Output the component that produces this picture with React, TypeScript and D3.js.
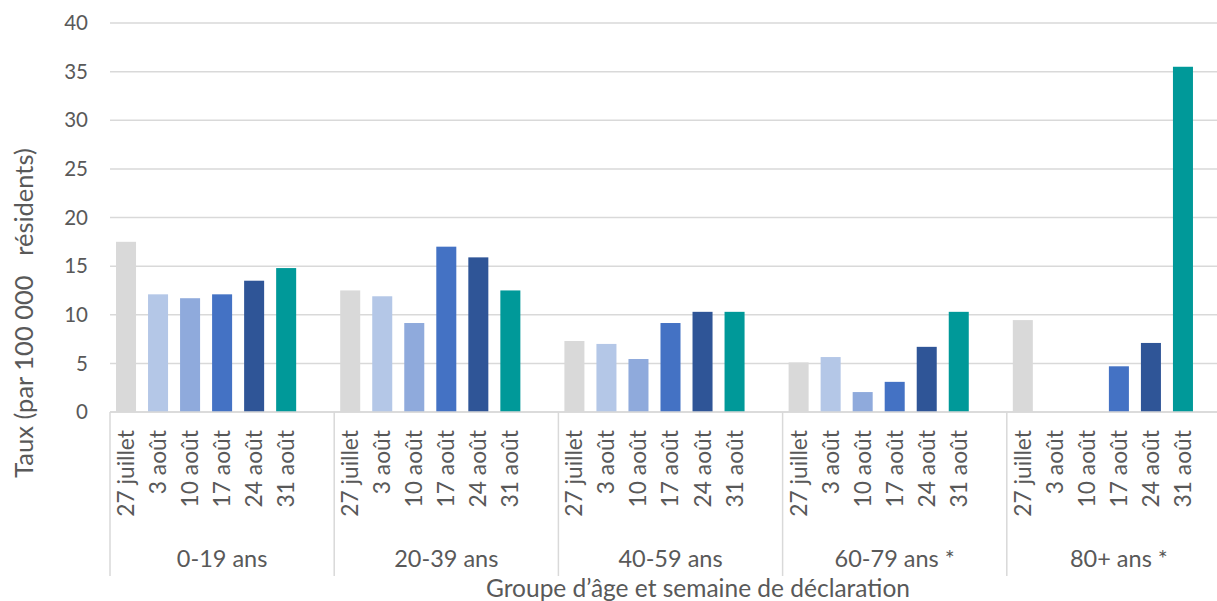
import React from "react";
import * as d3 from "d3";

// categories
const groups = ["0-19 ans", "20-39 ans", "40-59 ans", "60-79 ans *", "80+ ans *"];
const weeks = ["27 juillet", "3 août", "10 août", "17 août", "24 août", "31 août"];

// rate per 100 000 residents, one array per week (index = age group)
const w27juillet = [17.5, 12.5, 7.3, 5.1, 9.45];
const w3aout = [12.1, 11.9, 7.0, 5.65, 0];
const w10aout = [11.7, 9.15, 5.45, 2.05, 0];
const w17aout = [12.1, 17.0, 9.15, 3.1, 4.7];
const w24aout = [13.5, 15.9, 10.3, 6.7, 7.1];
const w31aout = [14.8, 12.5, 10.3, 10.3, 35.5];
const seriesValues = [w27juillet, w3aout, w10aout, w17aout, w24aout, w31aout];

const yTicks = [0, 5, 10, 15, 20, 25, 30, 35, 40];
const colors = ["#D9D9D9", "#B4C7E7", "#8FAADC", "#4472C4", "#2F5597", "#009999"];

const W = 1217;
const H = 601;
const margin = { top: 23, left: 110, bottom: 189, plotRight: 1231 };
const FONT = "Lato, 'Open Sans', sans-serif";
const TEXT = "#595959";

export default function App() {
  const y0 = H - margin.bottom; // 412
  const y = d3.scaleLinear().domain([0, 40]).range([y0, margin.top]);

  const outer = d3.scaleBand<string>().domain(groups).range([margin.left, margin.plotRight]).padding(0);
  // 6 weeks + an empty slot at the end of each group
  const slots = [...weeks, "_gap"];
  const inner = d3
    .scaleBand<string>()
    .domain(slots)
    .range([0, outer.bandwidth()])
    .paddingInner(0.375)
    .paddingOuter(0.1875)
    .align(0.5);

  const bars = groups.flatMap((g, gi) =>
    weeks.map((w, wi) => ({ g, w, wi, v: seriesValues[wi][gi] }))
  );

  return (
    <svg
      width={W}
      height={H}
      style={{ position: "absolute", left: 0, top: 0, background: "#fff" }}
      fontFamily={FONT}
    >
      {/* gridlines */}
      <g>
        {yTicks.map((t) => (
          <line
            key={t}
            x1={margin.left}
            x2={margin.plotRight}
            y1={y(t)}
            y2={y(t)}
            stroke="#D9D9D9"
            strokeWidth={1.5}
          />
        ))}
      </g>
      {/* y tick labels */}
      <g fill={TEXT} fontSize={20.5}>
        {yTicks.map((t) => (
          <text key={t} x={88} y={y(t)} dy="0.35em" textAnchor="end">
            {t}
          </text>
        ))}
      </g>
      {/* bars */}
      <g>
        {bars.map((b) => (
          <rect
            key={b.g + b.w}
            x={(outer(b.g) ?? 0) + (inner(b.w) ?? 0)}
            y={y(b.v)}
            width={inner.bandwidth()}
            height={y0 - y(b.v)}
            fill={colors[b.wi]}
          />
        ))}
      </g>
      {/* category axis */}
      <line x1={margin.left} x2={margin.plotRight} y1={y0} y2={y0} stroke="#D9D9D9" strokeWidth={1.5} />
      {groups.map((g) => (
        <line
          key={"sep" + g}
          x1={outer(g)}
          x2={outer(g)}
          y1={y0}
          y2={576}
          stroke="#D9D9D9"
          strokeWidth={1.5}
        />
      ))}
      <g fill={TEXT} fontSize={22.8}>
        {bars.map((b) => {
          const cx = (outer(b.g) ?? 0) + (inner(b.w) ?? 0) + inner.bandwidth() / 2;
          return (
            <text
              key={"lbl" + b.g + b.w}
              transform={`translate(${cx},${430}) rotate(-90)`}
              textAnchor="end"
              dy="0.35em"
            >
              {b.w}
            </text>
          );
        })}
      </g>
      <g fill={TEXT} fontSize={23.5}>
        {groups.map((g) => (
          <text
            key={"g" + g}
            x={(outer(g) ?? 0) + outer.bandwidth() / 2}
            y={567}
            textAnchor="middle"
          >
            {g}
          </text>
        ))}
      </g>
      {/* axis titles */}
      <text
        fill={TEXT}
        fontSize={25.5}
        textAnchor="middle"
        transform={`translate(33,${313}) rotate(-90)`}
        style={{ whiteSpace: "pre" }}
      >
        {"Taux (par 100 000   résidents)"}
      </text>
      <text fill={TEXT} fontSize={24.5} textAnchor="middle" x={698} y={597}>
        Groupe d’âge et semaine de déclaration
      </text>
    </svg>
  );
}
